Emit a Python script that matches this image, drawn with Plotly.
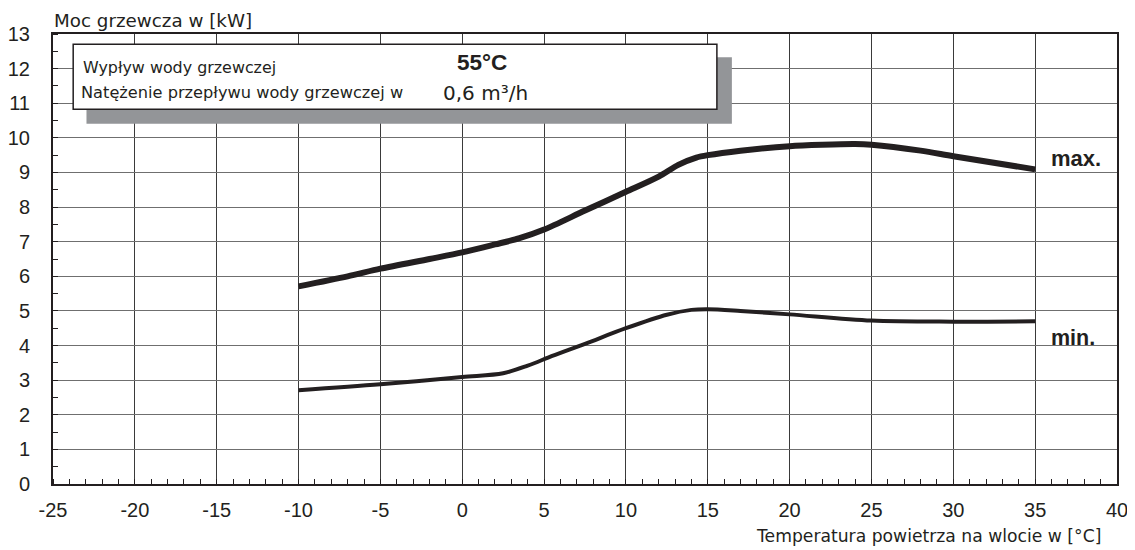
import plotly.graph_objects as go

# Data
temp_max = [-10, -7, -5, -2, 0, 2, 3.5, 5, 7.5, 10, 12, 13.2, 14.3, 15, 17, 20, 22, 24, 25, 28, 30, 35]
power_max = [5.71, 6.0, 6.22, 6.5, 6.69, 6.92, 7.1, 7.35, 7.9, 8.44, 8.88, 9.22, 9.43, 9.5, 9.63, 9.76, 9.8, 9.82, 9.8, 9.63, 9.47, 9.09]

temp_min = [-10, -5, 0, 2.5, 4, 5.5, 7.5, 10, 12.5, 14, 15, 17, 20, 25, 30, 35]
power_min = [2.71, 2.88, 3.09, 3.2, 3.42, 3.7, 4.05, 4.5, 4.89, 5.03, 5.05, 5.0, 4.9, 4.72, 4.69, 4.7]

x_tickvals = [-25, -20, -15, -10, -5, 0, 5, 10, 15, 20, 25, 30, 35, 40]
x_ticktext = ["-25", "-20", "-15", "-10", "-5", "0", "5", "10", "15", "20", "25", "30", "35", "40"]
y_tickvals = list(range(0, 14))

label_max = "max."
label_min = "min."
box_line1 = "Wypływ wody grzewczej"
box_line2 = "Natężenie przepływu wody grzewczej w"
box_val1 = "55°C"
box_val2 = "0,6 m³/h"
y_title = "Moc grzewcza w [kW]"
x_title = "Temperatura powietrza na wlocie w [°C]"

OFF = 8  # default page body margin
W, H = 1135 - OFF, 550 - OFF
L, R, T, B = 52.5 - OFF, 18, 34 - OFF, (550 - OFF) - (484.3 - OFF)
FONT = "Liberation Sans, Arial, sans-serif"
WIDE = "DejaVu Sans, Verdana, sans-serif"
INK = "#231f20"

def px(x):  # page pixel -> paper fraction
    return (x - OFF - L) / (W - L - R)

def py(y):
    return 1 - (y - OFF - T) / (H - T - B)

fig = go.Figure()
fig.add_trace(go.Scatter(x=temp_max, y=power_max, mode="lines",
                         line=dict(color=INK, width=6, shape="spline", smoothing=0.8),
                         hoverinfo="skip", showlegend=False))
fig.add_trace(go.Scatter(x=temp_min, y=power_min, mode="lines",
                         line=dict(color=INK, width=4, shape="spline", smoothing=0.9),
                         hoverinfo="skip", showlegend=False))

shapes = [
    dict(type="rect", xref="paper", yref="paper", x0=px(86), x1=px(731.7), y0=py(123.7), y1=py(57.3),
         fillcolor="#939598", line=dict(width=0), layer="above"),
    dict(type="rect", xref="paper", yref="paper", x0=px(72.7), x1=px(716.7), y0=py(109.3), y1=py(44.3),
         fillcolor="white", line=dict(color=INK, width=1.5), layer="above"),
]

ann = [
    dict(text=box_line1, x=px(81), y=py(68), xanchor="left", yanchor="middle", font=dict(size=15.9, family=WIDE)),
    dict(text=box_line2, x=px(79), y=py(93), xanchor="left", yanchor="middle", font=dict(size=16.2, family=WIDE)),
    dict(text="<b>" + box_val1 + "</b>", x=px(482), y=py(63), xanchor="center", yanchor="middle", font=dict(size=22.5, family=FONT)),
    dict(text=box_val2, x=px(441), y=py(93), xanchor="left", yanchor="middle", font=dict(size=20, family=WIDE)),
    dict(text=y_title, x=px(51), y=py(20), xanchor="left", yanchor="middle", font=dict(size=18.3, family=WIDE)),
    dict(text=x_title, x=px(1102.5), y=py(536), xanchor="right", yanchor="middle", font=dict(size=17.2, family=WIDE)),
    dict(text="<b>" + label_max + "</b>", x=px(1049), y=py(159), xanchor="left", yanchor="middle", font=dict(size=22, family=FONT)),
    dict(text="<b>" + label_min + "</b>", x=px(1049), y=py(338), xanchor="left", yanchor="middle", font=dict(size=21.5, family=FONT)),
]
for a in ann:
    a.update(xref="paper", yref="paper", showarrow=False)
    a["font"].update(color=INK)

fig.update_layout(
    width=W, height=H,
    margin=dict(l=L, r=R, t=T, b=B, pad=0, autoexpand=False),
    paper_bgcolor="white", plot_bgcolor="white",
    font=dict(family=FONT, color=INK, size=20),
    shapes=shapes, annotations=ann,
    showlegend=False,
)
fig.update_xaxes(range=[-25, 40], tickvals=x_tickvals, ticktext=x_ticktext, showgrid=True, automargin=False,
                 gridcolor="#3a3a3a", gridwidth=1.2,
                 showline=True, linecolor=INK, linewidth=2, mirror=True, zeroline=False,
                 ticks="", ticklabelstandoff=7, tickfont=dict(size=20, color=INK),
                 minor=dict(dtick=1, tick0=-25, ticks="inside", ticklen=5, tickcolor=INK, tickwidth=1, showgrid=False))
fig.update_yaxes(range=[0, 13], tickvals=y_tickvals, showgrid=True, automargin=False,
                 gridcolor="#6f6f6f", gridwidth=1.2,
                 showline=True, linecolor=INK, linewidth=2, mirror=True, zeroline=False,
                 ticks="", ticklabelstandoff=17, tickfont=dict(size=20, color=INK),
                 minor=dict(dtick=0.5, tick0=0, ticks="inside", ticklen=5, tickcolor=INK, tickwidth=1, showgrid=False))

fig.write_html("out.html")
